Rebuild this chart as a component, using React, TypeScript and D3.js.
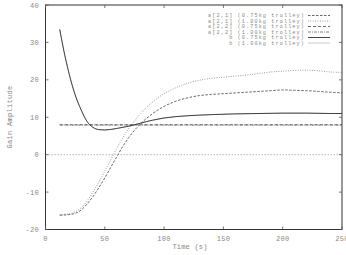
import React from "react";
import * as d3 from "d3";

const W = 346;
const H = 255;

const xTicks = [0, 50, 100, 150, 200, 250];
const yTicks = [-20, -10, 0, 10, 20, 30, 40];

const tA = [12, 20, 25, 30, 35, 40, 45, 50, 55, 60, 65, 70, 75, 80, 90, 100, 110, 120, 130, 140, 150, 160, 170, 180, 190, 200, 210, 220, 230, 240, 250];
const a21_075 = [-16.2, -16.0, -15.7, -14.8, -13.2, -11.2, -8.8, -6.2, -3.4, -0.6, 2.1, 4.5, 6.5, 8.2, 10.9, 12.9, 14.3, 15.2, 15.8, 16.1, 16.3, 16.5, 16.7, 16.9, 17.1, 17.3, 17.2, 17.1, 16.9, 16.7, 16.5];
const a21_100 = [-16.0, -15.8, -15.3, -14.2, -12.4, -10.0, -7.3, -4.4, -1.4, 1.6, 4.4, 6.9, 9.0, 10.9, 14.0, 16.3, 17.9, 19.1, 19.9, 20.4, 20.7, 21.0, 21.3, 21.7, 22.1, 22.3, 22.5, 22.6, 22.4, 22.1, 22.0];
const a22_075 = tA.map(() => 8.0);
const a22_100 = tA.map(() => 7.9);

const tB = [12, 15, 20, 25, 30, 35, 40, 45, 50, 60, 70, 80, 90, 100, 120, 140, 160, 180, 200, 220, 240, 250];
const b_075 = [33.5, 28.5, 21.5, 16.0, 12.0, 8.9, 7.3, 6.7, 6.6, 7.0, 7.6, 8.4, 9.2, 9.8, 10.4, 10.7, 10.9, 11.0, 11.1, 11.1, 11.0, 11.0];
const b_100 = [33.5, 28.5, 21.5, 16.0, 12.0, 8.9, 7.3, 6.7, 6.6, 7.0, 7.6, 8.4, 9.2, 9.8, 10.4, 10.7, 10.9, 11.0, 11.1, 11.1, 11.0, 11.0];

const legendLabels = [
  "a[2,1] (0.75kg trolley)",
  "a[2,1] (1.00kg trolley)",
  "a[2,2] (0.75kg trolley)",
  "a[2,2] (1.00kg trolley)",
  "b (0.75kg trolley)",
  "b (1.00kg trolley)",
];

export default function App() {
  const left = 45.5, right = 342, top = 5, bottom = 229.5;
  const x = d3.scaleLinear().domain([0, 250]).range([left, right]);
  const y = d3.scaleLinear().domain([-20, 40]).range([bottom, top]);
  const line = d3.line<[number, number]>().x(d => x(d[0])).y(d => y(d[1])).curve(d3.curveMonotoneX);

  const series = [
    { t: tA, v: a21_075, stroke: "#444", dash: "2.5,1.5", w: 0.8 },
    { t: tA, v: a21_100, stroke: "#666", dash: "0.8,1.6", w: 0.8 },
    { t: tA, v: a22_075, stroke: "#444", dash: "3,2", w: 0.8 },
    { t: tA, v: a22_100, stroke: "#666", dash: "3,1,1,1", w: 0.8 },
    { t: tB, v: b_075, stroke: "#333", dash: "none", w: 0.9 },
    { t: tB, v: b_100, stroke: "#bbb", dash: "none", w: 0.8 },
  ];
  const drawOrder = [5, 0, 1, 2, 3, 4];

  const font = "'Liberation Mono', 'DejaVu Sans Mono', monospace";
  const tc = "#888";

  return (
    <svg width={W} height={H} style={{ position: "absolute", left: 0, top: 0 }}>
      <rect width={W} height={H} fill="#fff" />
      <line x1={left} x2={right} y1={y(0)} y2={y(0)} stroke="#aaa" strokeWidth={0.8} strokeDasharray="1.5,1.5" />
      {drawOrder.map(i => {
        const s = series[i];
        return (
          <path key={i} d={line(s.t.map((t, j) => [t, s.v[j]]) as [number, number][]) || ""} fill="none" stroke={s.stroke} strokeWidth={s.w} strokeDasharray={s.dash} />
        );
      })}
      <rect x={left} y={top} width={right - left} height={bottom - top} fill="none" stroke="#333" strokeWidth={1} />
      {xTicks.map(t => (
        <g key={"x" + t}>
          <line x1={x(t)} x2={x(t)} y1={bottom} y2={bottom - 3} stroke="#555" strokeWidth={0.8} />
          <line x1={x(t)} x2={x(t)} y1={top} y2={top + 3} stroke="#555" strokeWidth={0.8} />
          <text x={x(t)} y={241} textAnchor="middle" fontFamily={font} fontSize={7} letterSpacing={0.3} fill={tc}>{t}</text>
        </g>
      ))}
      {yTicks.map(t => (
        <g key={"y" + t}>
          <line x1={left} x2={left + 3} y1={y(t)} y2={y(t)} stroke="#555" strokeWidth={0.8} />
          <line x1={right} x2={right - 3} y1={y(t)} y2={y(t)} stroke="#555" strokeWidth={0.8} />
          <text x={39} y={y(t) + 2.5} textAnchor="end" fontFamily={font} fontSize={7} letterSpacing={0.3} fill={tc}>{t}</text>
        </g>
      ))}
      <text x={190} y={249} textAnchor="middle" fontFamily={font} fontSize={7} letterSpacing={0.2} fill={tc}>Time (s)</text>
      <text transform={`translate(12,117) rotate(-90)`} textAnchor="middle" fontFamily={font} fontSize={7} letterSpacing={0.3} fill={tc}>Gain Amplitude</text>
      {legendLabels.map((l, i) => {
        const ly = 15.5 + i * 5.5;
        const s = series[i];
        return (
          <g key={"l" + i}>
            <text x={305} y={ly + 1.8} textAnchor="end" fontFamily={font} fontSize={5.2} letterSpacing={1.1} fill={tc}>{l}</text>
            <line x1={308} x2={330} y1={ly} y2={ly} stroke={s.stroke} strokeWidth={s.w} strokeDasharray={s.dash} />
          </g>
        );
      })}
    </svg>
  );
}
